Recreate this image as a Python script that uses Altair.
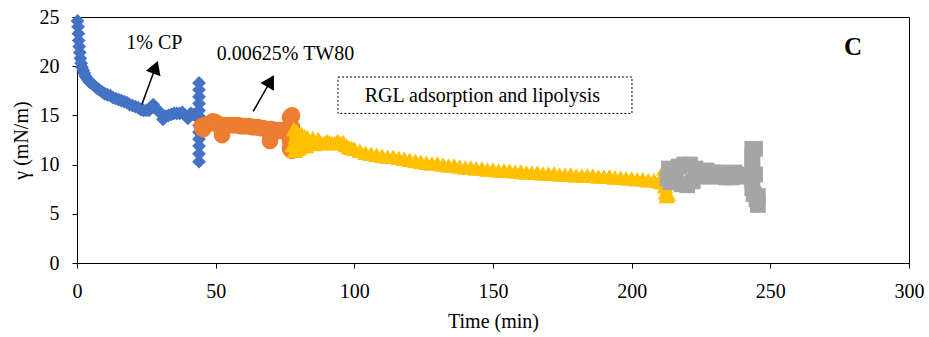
import altair as alt
import pandas as pd

# ---- series: time (min), surface tension (mN/m) ----
blue_t = [0.2, 0.4, 0.5, 0.6, 0.8, 1.0, 1.2, 1.5, 1.8, 2.2, 2.6, 3.0, 3.5, 4, 4.5, 5, 6, 7, 8, 9,
          10, 11, 12, 13, 14, 15, 16, 17, 18, 19, 20, 21, 22, 23, 24, 25, 26, 27, 27.5, 28,
          29, 30, 31, 32, 33, 34, 35, 36, 37, 38, 39, 40, 41, 42, 43, 44,
          44, 44, 44, 44, 44, 44, 44, 44, 44, 44, 44, 45]
blue_y = [24.6, 24.0, 23.3, 22.6, 22.0, 21.4, 20.8, 20.3, 19.9, 19.6, 19.3, 19.0, 18.8, 18.6, 18.4, 18.3, 18.1, 17.8, 17.6, 17.4,
          17.2, 17.1, 17.0, 16.8, 16.7, 16.6, 16.5, 16.4, 16.3, 16.1, 16.0, 15.9, 15.8, 15.6, 15.5, 15.5, 15.5, 15.9, 16.1, 15.8,
          15.5, 15.3, 14.6, 14.9, 15.0, 15.1, 15.2, 15.2, 15.2, 15.3, 15.0, 14.7, 15.2, 15.1, 14.9, 14.9,
          18.3, 17.6, 16.9, 16.2, 15.5, 14.0, 13.3, 12.6, 11.9, 11.1, 10.3, 14.6]

orange_t = [45.0, 45.5, 46, 47, 48, 49, 50, 51, 52.3, 53, 54, 55, 56, 57, 58, 59, 60, 61, 62, 63,
            64, 65, 66, 67, 68, 69, 69.6, 70, 71, 72, 72.5, 73, 74, 75, 76,
            76.8, 76.8, 76.8, 76.8, 76.8, 77.5, 77.5, 77.5, 77.5]
orange_y = [13.9, 13.6, 14.0, 14.1, 14.2, 14.4, 14.3, 14.0, 13.0, 14.0, 14.0, 14.0, 14.0, 14.0, 14.0, 13.9, 13.9, 13.9, 13.9, 13.8,
            13.8, 13.8, 13.7, 13.7, 13.6, 13.6, 12.4, 13.6, 13.5, 13.5, 13.4, 13.5, 13.4, 13.4, 13.5,
            14.8, 14.0, 13.2, 12.4, 11.6, 15.0, 13.8, 12.4, 11.4]

yellow_t = [77.8, 78.2, 78.5, 78.8, 79.2, 79.6, 80, 80.5, 81, 81.5, 82, 82.5, 83, 84, 85, 86, 87, 88, 89, 90,
            91, 92, 93, 94, 95, 96, 97, 98, 99, 100, 102, 104, 106, 108, 110, 112, 114, 116, 118, 120,
            122, 124, 126, 128, 130, 132, 134, 136, 138, 140, 142, 144, 146, 148, 150, 152, 154, 156, 158, 160,
            162, 164, 166, 168, 170, 172, 174, 176, 178, 180, 182, 184, 186, 188, 190, 192, 194, 196, 198, 200,
            202, 204, 206, 208, 210, 211, 211.8, 211.8, 212, 212.3, 212.6, 213]
yellow_y = [12.0, 13.6, 11.4, 12.8, 13.4, 11.6, 13.0, 11.8, 13.1, 12.0, 12.9, 11.9, 12.8, 12.2, 12.7, 12.1, 12.6, 12.2, 12.2, 12.4,
            12.3, 12.2, 12.2, 12.4, 12.2, 12.3, 12.0, 11.8, 11.7, 11.6, 11.4, 11.2, 11.1, 11.0, 10.9, 10.8, 10.8, 10.7, 10.6, 10.5,
            10.4, 10.3, 10.2, 10.1, 10.1, 10.0, 9.9, 9.9, 9.8, 9.7, 9.7, 9.6, 9.6, 9.5, 9.5, 9.4, 9.4, 9.4, 9.3, 9.3,
            9.2, 9.2, 9.2, 9.1, 9.1, 9.1, 9.0, 9.0, 9.0, 8.9, 8.9, 8.9, 8.9, 8.8, 8.8, 8.8, 8.7, 8.7, 8.6, 8.6,
            8.5, 8.5, 8.4, 8.4, 8.3, 8.2, 9.6, 8.8, 7.8, 7.2, 6.8, 7.0]

gray_t = [213, 213.5, 214, 215, 216, 217, 218, 219, 220, 221, 222, 223, 224, 225, 226, 227, 228, 229, 230, 231,
          232, 233, 234, 235, 236, 237, 238, 239, 240, 241, 242,
          243.5, 243.5, 243.5, 243.5, 243.5, 243.5, 244.5, 244.5, 244, 245, 245.5, 245.5]
gray_y = [8.6, 9.6, 8.2, 9.4, 8.4, 9.8, 8.0, 10.0, 7.9, 10.0, 8.3, 9.6, 8.8, 9.3, 8.8, 9.4, 8.8, 9.2, 8.8, 9.2,
          8.8, 9.1, 8.7, 9.1, 8.7, 9.2, 8.8, 9.0, 8.8, 8.9, 8.9,
          11.6, 10.8, 10.0, 9.2, 8.4, 7.6, 11.6, 9.0, 7.0, 6.5, 6.8, 5.9]

# ---- axis ticks ----
x_ticks = [0, 50, 100, 150, 200, 250, 300]
y_ticks = [0, 5, 10, 15, 20, 25]

# ---- annotations (data units) ----
label_text = ["1% CP", "0.00625% TW80", "RGL adsorption and lipolysis"]
label_t = [27.9, 75.2, 146.2]
label_g = [22.4, 21.2, 17.0]

arrow_t0 = [23.4, 63.5]
arrow_g0 = [16.1, 15.4]
arrow_t1 = [28.3, 69.8]
arrow_g1 = [19.9, 18.5]
arrow_angle = [20, 30]

box_t = [94.1]
box_t2 = [200.1]
box_g = [18.9]
box_g2 = [15.2]

panel_text = ["C"]
panel_t = [279.8]
panel_g = [22.0]

FONT = "Liberation Serif"

xs = alt.Scale(domain=[0, 300], nice=False)
ys = alt.Scale(domain=[0, 25], nice=False)
x_enc = alt.X("t:Q", scale=xs, axis=alt.Axis(values=x_ticks, title="Time (min)", labelFlush=False,
                                               titleFontWeight="normal", titlePadding=10))
y_enc = alt.Y("g:Q", scale=ys, axis=alt.Axis(values=y_ticks, title="γ (mN/m)", labelFlush=False,
                                               titleFontWeight="normal", titlePadding=8))


def pts(t, g, shape, color, size):
    return alt.Chart(pd.DataFrame({"t": t, "g": g})).mark_point(
        shape=shape, filled=True, size=size, color=color, opacity=1, strokeWidth=0
    ).encode(x=x_enc, y=y_enc)


blue = pts(blue_t, blue_y, "diamond", "#4472C4", 190)
orange = pts(orange_t, orange_y, "circle", "#ED7D31", 280)
yellow = pts(yellow_t, yellow_y, "triangle-up", "#FFC000", 280)
gray = pts(gray_t, gray_y, "square", "#A5A5A5", 250)

arrow_lines = alt.Chart(pd.DataFrame({"t": arrow_t0, "g": arrow_g0, "t2": arrow_t1, "g2": arrow_g1})).mark_rule(
    color="black", strokeWidth=1.5).encode(x=x_enc, y=y_enc, x2="t2:Q", y2="g2:Q")
arrow_heads = alt.Chart(pd.DataFrame({"t": arrow_t1, "g": arrow_g1, "a": arrow_angle})).mark_point(
    shape="triangle-up", filled=True, color="black", size=240, opacity=1, strokeWidth=0
).encode(x=x_enc, y=y_enc, angle=alt.Angle("a:Q", scale=None))

box = alt.Chart(pd.DataFrame({"t": box_t, "t2": box_t2, "g": box_g, "g2": box_g2})).mark_rect(
    fill="white", fillOpacity=0, stroke="black", strokeWidth=1, strokeDash=[2, 2]
).encode(x=x_enc, x2="t2:Q", y=y_enc, y2="g2:Q")

labels = alt.Chart(pd.DataFrame({"t": label_t, "g": label_g, "s": label_text})).mark_text(
    font=FONT, fontSize=20, color="black", align="center", baseline="middle"
).encode(x=x_enc, y=y_enc, text="s:N")

panel = alt.Chart(pd.DataFrame({"t": panel_t, "g": panel_g, "s": panel_text})).mark_text(
    font=FONT, fontSize=25, fontWeight="bold", color="black", align="center", baseline="middle"
).encode(x=x_enc, y=y_enc, text="s:N")

chart = alt.layer(blue, orange, yellow, gray, box, arrow_lines, arrow_heads, labels, panel).properties(
    width=832, height=246,
    padding={"left": 77, "top": 17, "right": 20, "bottom": 74},
    autosize=alt.AutoSizeParams(type="none"),
    background="white",
).configure_view(stroke="black", strokeWidth=1).configure_axis(
    grid=False, domainColor="black", tickColor="black", tickSize=5, domainWidth=1,
    labelFont=FONT, labelFontSize=20, labelColor="black", labelPadding=13,
    titleFont=FONT, titleFontSize=20, titleFontWeight="normal", titleColor="black",
)

chart.save("out.html", embed_options={"renderer": "svg", "actions": False})
